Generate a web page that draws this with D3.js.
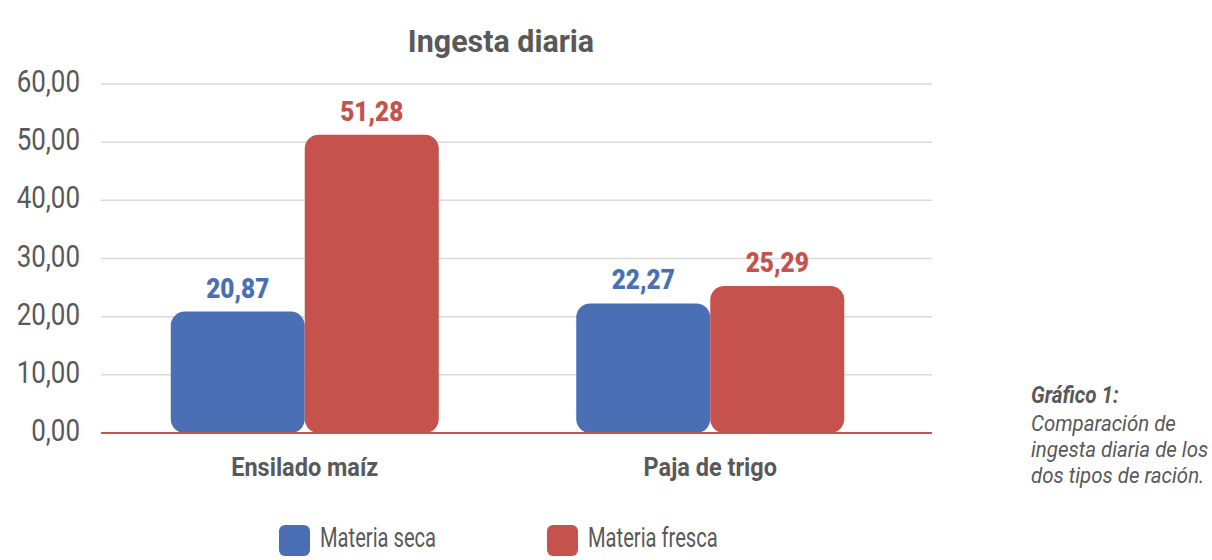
<!DOCTYPE html>
<html>
<head>
<meta charset="utf-8">
<script src="https://cdn.jsdelivr.net/npm/d3@7/dist/d3.min.js"></script>
<style>
  body { margin: 0; background: #fff; }
  svg { font-family: Roboto, "Noto Sans", sans-serif; }
</style>
</head>
<body>
<div id="chart"></div>
<script>
// Data
const categories = ["Ensilado maíz", "Paja de trigo"];
const seriesNames = ["Materia seca", "Materia fresca"];
const materiaSeca = [20.87, 22.27];
const materiaFresca = [51.28, 25.29];
const yTicks = [0, 10, 20, 30, 40, 50, 60];
const colors = ["#4b6fb4", "#c5524d"];
const captionTitle = "Gráfico 1:";
const captionLines = ["Comparación de", "ingesta diaria de los", "dos tipos de ración."];

const width = 1212, height = 560;
const plot = { left: 101, right: 932, top: 84, bottom: 433 };
const gray = "#595959";

const svg = d3.select("#chart")
  .append("svg")
    .attr("width", width)
    .attr("height", height);

const fmt = v => d3.format(".2f")(v).replace(".", ",");

// squeeze text horizontally (no condensed font installed)
const place = (sel, fx, fy, k) =>
  sel.attr("transform", (d, i) => `translate(${fx(d, i)},${fy(d, i)}) scale(${k},1)`);

// Scales
const y = d3.scaleLinear()
  .domain([0, 60])
  .range([plot.bottom, plot.top]);

const x0 = d3.scaleBand()
  .domain(categories)
  .range([102, 913])
  .paddingInner(0.34)
  .paddingOuter(0.17);

const x1 = d3.scaleBand()
  .domain(seriesNames)
  .range([0, 268]);

// Gridlines
svg.append("g")
  .selectAll("line")
  .data(yTicks.filter(d => d > 0))
  .enter()
  .append("line")
    .attr("x1", plot.left)
    .attr("x2", plot.right)
    .attr("y1", d => y(d))
    .attr("y2", d => y(d))
    .style("stroke", "#d9d9d9")
    .style("stroke-width", 1.5);

// Y labels
svg.append("g")
  .selectAll("text")
  .data(yTicks)
  .enter()
  .append("text")
    .call(place, () => 80, d => y(d) + 8, 0.81)
    .attr("text-anchor", "end")
    .style("font-size", "32px")
    .style("fill", gray)
    .text(d => fmt(d));

// Bars
const rows = categories.map((c, i) => ({
  cat: c,
  vals: [
    { name: seriesNames[0], v: materiaSeca[i], c: colors[0] },
    { name: seriesNames[1], v: materiaFresca[i], c: colors[1] }
  ]
}));

const groups = svg.append("g")
  .selectAll("g")
  .data(rows)
  .enter()
  .append("g")
    .attr("transform", d => `translate(${x0(d.cat) + x0.bandwidth() / 2 - 134},0)`);

groups.selectAll("rect")
  .data(d => d.vals)
  .enter()
  .append("rect")
    .attr("x", d => x1(d.name))
    .attr("y", d => y(d.v))
    .attr("width", x1.bandwidth())
    .attr("height", d => y(0) - y(d.v))
    .attr("rx", 14)
    .style("fill", d => d.c);

groups.selectAll("text.val")
  .data(d => d.vals)
  .enter()
  .append("text")
    .attr("class", "val")
    .call(place, d => x1(d.name) + x1.bandwidth() / 2, d => y(d.v) - 14, 0.87)
    .attr("text-anchor", "middle")
    .style("font-size", "28px")
    .style("font-weight", "900")
    .style("fill", d => d.c)
    .text(d => fmt(d.v));

// Baseline
svg.append("line")
  .attr("x1", plot.left)
  .attr("x2", plot.right)
  .attr("y1", y(0))
  .attr("y2", y(0))
  .style("stroke", "#c5524d")
  .style("stroke-width", 2);

// Category labels
svg.append("g")
  .selectAll("text")
  .data(categories)
  .enter()
  .append("text")
    .call(place, d => x0(d) + x0.bandwidth() / 2, () => 476, 0.94)
    .attr("text-anchor", "middle")
    .style("font-size", "25px")
    .style("font-weight", "bold")
    .style("fill", gray)
    .text(d => d);

// Title
svg.append("text")
  .datum("Ingesta diaria")
  .call(place, () => 501, () => 52, 0.95)
  .attr("text-anchor", "middle")
  .style("font-size", "32px")
  .style("font-weight", "bold")
  .style("fill", gray)
  .text(d => d);

// Legend
const legendX = [279, 547];
const legend = svg.append("g")
  .selectAll("g")
  .data(seriesNames)
  .enter()
  .append("g")
    .attr("transform", (d, i) => `translate(${legendX[i]},525)`);

legend.append("rect")
  .attr("width", 31)
  .attr("height", 31)
  .attr("rx", 6)
  .style("fill", (d, i) => colors[i]);

legend.append("text")
  .call(place, () => 41, () => 22, 0.72)
  .style("font-size", "28px")
  .style("fill", gray)
  .text(d => d);

// Caption
svg.append("text")
  .datum(captionTitle)
  .call(place, () => 1031, () => 403, 0.9)
  .style("font-size", "23px")
  .style("font-weight", "bold")
  .style("font-style", "italic")
  .style("fill", gray)
  .text(d => d);

svg.append("g")
  .selectAll("text")
  .data(captionLines)
  .enter()
  .append("text")
    .call(place, () => 1031, (d, i) => 431 + i * 26, 0.93)
    .style("font-size", "22px")
    .style("font-style", "italic")
    .style("fill", gray)
    .text(d => d);
</script>
</body>
</html>
